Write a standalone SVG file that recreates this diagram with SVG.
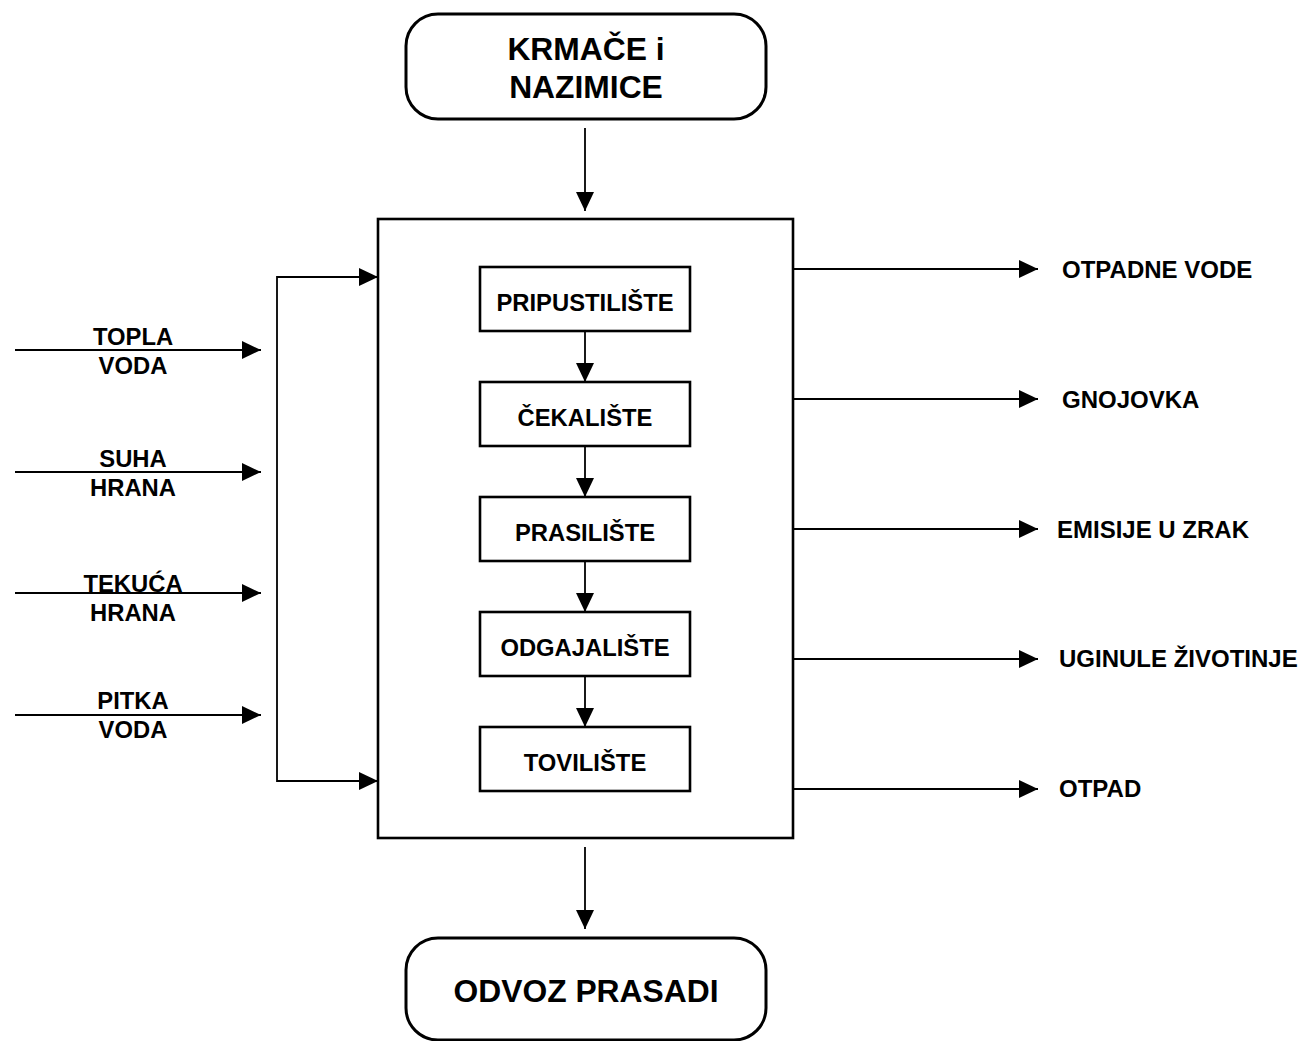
<svg xmlns="http://www.w3.org/2000/svg" width="1303" height="1041" viewBox="0 0 1303 1041">
<defs>
<marker id="ah" markerUnits="userSpaceOnUse" markerWidth="19" markerHeight="18" refX="19" refY="9" orient="auto">
<path d="M0,0 L19,9 L0,18 z" fill="#000"/>
</marker>
<style>
.t{font-family:"Liberation Sans",Arial,sans-serif;font-weight:bold;fill:#000}
.big{font-size:31.8px;text-anchor:middle}
.mid{font-size:23.8px;text-anchor:middle}
.lab{font-size:24px}
.rb{fill:#fff;stroke:#000;stroke-width:3}
.bx{fill:#fff;stroke:#000;stroke-width:2.6}
.c{fill:none;stroke:#000;stroke-width:1.8;marker-end:url(#ah)}
.l{fill:none;stroke:#000;stroke-width:1.8}
</style>
</defs>
<rect width="1303" height="1041" fill="#fff"/>

<g id="main">
<rect class="bx" x="378" y="219" width="415" height="619"/>
</g>

<g id="connectors">
<line class="c" x1="585" y1="128" x2="585" y2="211"/>
<line class="c" x1="585" y1="847" x2="585" y2="929"/>
<line class="c" x1="585" y1="331" x2="585" y2="382"/>
<line class="c" x1="585" y1="446" x2="585" y2="497"/>
<line class="c" x1="585" y1="561" x2="585" y2="612"/>
<line class="c" x1="585" y1="676" x2="585" y2="727"/>
<line class="c" x1="15" y1="350" x2="261" y2="350"/>
<line class="c" x1="15" y1="472" x2="261" y2="472"/>
<line class="c" x1="15" y1="593" x2="261" y2="593"/>
<line class="c" x1="15" y1="715" x2="261" y2="715"/>
<polyline class="l" points="377,277 277,277 277,781 377,781"/>
<line class="c" x1="277" y1="277" x2="378" y2="277"/>
<line class="c" x1="277" y1="781" x2="378" y2="781"/>
<line class="c" x1="793" y1="269" x2="1038" y2="269"/>
<line class="c" x1="793" y1="399" x2="1038" y2="399"/>
<line class="c" x1="793" y1="529" x2="1038" y2="529"/>
<line class="c" x1="793" y1="659" x2="1038" y2="659"/>
<line class="c" x1="793" y1="789" x2="1038" y2="789"/>
</g>

<g id="krmace">
<rect class="rb" x="406" y="14" width="360" height="105" rx="32" ry="32"/>
<text class="t big" x="586" y="60">KRMAČE i</text>
<text class="t big" x="586" y="98">NAZIMICE</text>
</g>

<g id="odvoz">
<rect class="rb" x="406" y="938" width="360" height="102" rx="32" ry="32"/>
<text class="t big" x="586" y="1002">ODVOZ PRASADI</text>
</g>

<g id="pripustiliste">
<rect class="bx" x="480" y="267" width="210" height="64"/>
<text class="t mid" x="585" y="311">PRIPUSTILIŠTE</text>
</g>
<g id="cekaliste">
<rect class="bx" x="480" y="382" width="210" height="64"/>
<text class="t mid" x="585" y="426">ČEKALIŠTE</text>
</g>
<g id="prasiliste">
<rect class="bx" x="480" y="497" width="210" height="64"/>
<text class="t mid" x="585" y="541">PRASILIŠTE</text>
</g>
<g id="odgajaliste">
<rect class="bx" x="480" y="612" width="210" height="64"/>
<text class="t mid" x="585" y="656">ODGAJALIŠTE</text>
</g>
<g id="toviliste">
<rect class="bx" x="480" y="727" width="210" height="64"/>
<text class="t mid" x="585" y="771">TOVILIŠTE</text>
</g>

<g id="topla-voda">
<text class="t mid" x="133" y="345">TOPLA</text>
<text class="t mid" x="133" y="374">VODA</text>
</g>
<g id="suha-hrana">
<text class="t mid" x="133" y="467">SUHA</text>
<text class="t mid" x="133" y="496">HRANA</text>
</g>
<g id="tekuca-hrana">
<text class="t mid" x="133" y="592">TEKUĆA</text>
<text class="t mid" x="133" y="621">HRANA</text>
</g>
<g id="pitka-voda">
<text class="t mid" x="133" y="709">PITKA</text>
<text class="t mid" x="133" y="738">VODA</text>
</g>

<g id="otpadne-vode"><text class="t lab" x="1062" y="278">OTPADNE VODE</text></g>
<g id="gnojovka"><text class="t lab" x="1062" y="408">GNOJOVKA</text></g>
<g id="emisije"><text class="t lab" x="1057" y="538">EMISIJE U ZRAK</text></g>
<g id="uginule"><text class="t lab" x="1059" y="667">UGINULE ŽIVOTINJE</text></g>
<g id="otpad"><text class="t lab" x="1059" y="797">OTPAD</text></g>
</svg>
